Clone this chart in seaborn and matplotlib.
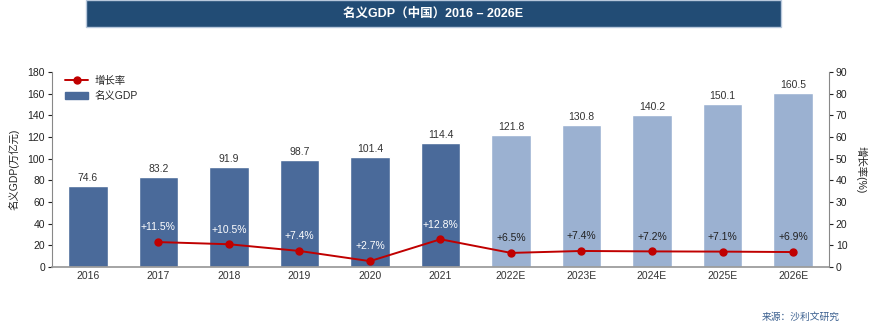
import numpy as np
import pandas as pd
import matplotlib
matplotlib.use("Agg")
import matplotlib.pyplot as plt
from matplotlib.patches import Patch, Rectangle
from matplotlib.lines import Line2D
import seaborn as sns

years = ["2016", "2017", "2018", "2019", "2020", "2021",
         "2022E", "2023E", "2024E", "2025E", "2026E"]
gdp = [74.6, 83.2, 91.9, 98.7, 101.4, 114.4, 121.8, 130.8, 140.2, 150.1, 160.5]
growth = [np.nan, 11.5, 10.5, 7.4, 2.7, 12.8, 6.5, 7.4, 7.2, 7.1, 6.9]
growth_labels = ["", "+11.5%", "+10.5%", "+7.4%", "+2.7%", "+12.8%",
                 "+6.5%", "+7.4%", "+7.2%", "+7.1%", "+6.9%"]

DARK = "#4A6A9A"
LIGHT = "#9BB1D1"
RED = "#C00000"
FS = 7.5

sns.set_theme(style="white")
plt.rcParams['font.family'] = ['Liberation Sans', 'Noto Sans CJK SC', 'DejaVu Sans']

df = pd.DataFrame({"year": years, "gdp": gdp})
colors = [LIGHT if y.endswith("E") else DARK for y in years]

fig = plt.figure(figsize=(8.75, 3.26), dpi=100)
ax = fig.add_axes([0.0594, 0.181, 0.8880, 0.598])

sns.barplot(data=df, x="year", y="gdp", hue="year", palette=colors,
            legend=False, width=0.56, ax=ax, saturation=1)

ax.set_ylim(0, 180)
ax.set_yticks(range(0, 181, 20))
ax.set_xlim(-0.51, len(years) - 0.49)
ax.set_xlabel("")
ax.set_ylabel("名义GDP(万亿元)", fontsize=FS, color="#222222", labelpad=6)
ax.tick_params(axis="y", which="both", left=True, length=3, width=0.8,
               labelsize=FS, colors="#222222", pad=2)
ax.tick_params(axis="x", bottom=False, length=0, labelsize=FS,
               colors="#333333", pad=3)
for s in ["top", "right"]:
    ax.spines[s].set_visible(False)
ax.spines["left"].set_color("#888888")
ax.spines["bottom"].set_color("#999999")
ax.spines["left"].set_linewidth(0.8)

for i, v in enumerate(gdp):
    ax.text(i, v + 3, f"{v:.1f}", ha="center", va="bottom",
            fontsize=FS, color="#333333")

ax2 = ax.twinx()
xi = np.arange(len(years))
g = np.array(growth)
mask = ~np.isnan(g)
ax2.plot(xi[mask], g[mask], color=RED, lw=1.4, marker="o", ms=5,
         markerfacecolor=RED, markeredgecolor=RED, zorder=5)
ax2.set_ylim(0, 90)
ax2.set_yticks(range(0, 91, 10))
ax2.set_ylabel("增长率(%)", rotation=270, fontsize=FS, color="#222222",
               labelpad=14)
ax2.tick_params(axis="y", right=True, length=3, width=0.8, labelsize=FS,
                colors="#222222", pad=2)
for s in ["top", "left", "bottom"]:
    ax2.spines[s].set_visible(False)
ax2.spines["right"].set_color("#888888")
ax2.spines["right"].set_linewidth(0.8)

for i, (v, lab) in enumerate(zip(growth, growth_labels)):
    if lab:
        c = "white" if not years[i].endswith("E") else "#222222"
        ax2.text(i, v + 4.5, lab, ha="center", va="bottom", fontsize=FS,
                 color=c, zorder=6)

handles = [Line2D([0], [0], color=RED, lw=1.4, marker="o", ms=5),
           Patch(facecolor=DARK, edgecolor=DARK)]
ax.legend(handles, ["增长率", "名义GDP"], loc="upper left",
          bbox_to_anchor=(0.005, 1.03), frameon=False, fontsize=FS,
          handlelength=2.2, handletextpad=0.6, labelspacing=0.55)

# Title banner
fig.patches.append(Rectangle((0.098, 0.917), 0.795, 0.083,
                             transform=fig.transFigure, facecolor="#224C75",
                             edgecolor="#B8C8DC", lw=1.0, zorder=0))
fig.text(0.495, 0.958, "名义GDP（中国）2016 – 2026E", ha="center", va="center",
         fontsize=9, fontweight="bold", color="white")

fig.text(0.96, 0.028, "来源：沙利文研究", ha="right", va="center",
         fontsize=7, style="italic", color="#3A5F8F")

fig.savefig("out.png", dpi=100)
